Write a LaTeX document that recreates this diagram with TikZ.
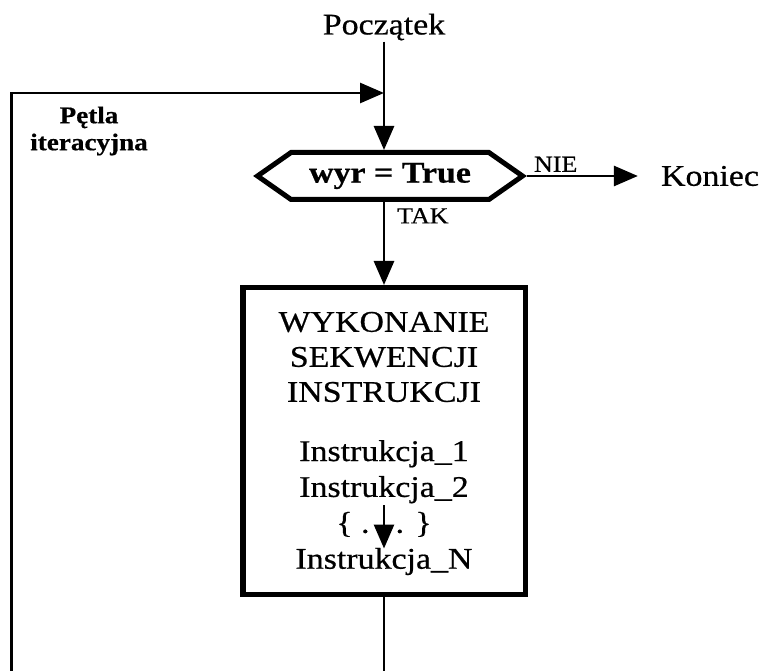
\documentclass[tikz,border=0pt]{standalone}
\usepackage{fontspec}
\setmainfont{Liberation Serif}[FakeStretch=1.13,FakeBold=0.6]
\usetikzlibrary{positioning,arrows.meta,shapes.symbols}

\begin{document}
\begin{tikzpicture}[x=1pt,y=1pt,
	txt/.style={font=\fontsize{30}{35}\selectfont,inner sep=1pt},
	instr/.style={txt,text height=21pt,text depth=7pt},
	lbl/.style={font=\fontsize{23}{27}\selectfont,inner sep=1pt},
	cond/.style={signal,signal to=east and west,signal pointer angle=70,draw,line width=5pt,
		minimum width=265pt,minimum height=47pt,inner sep=0pt,font=\fontsize{30}{35}\selectfont\bfseries},
	bodybox/.style={draw,line width=5.5pt,minimum width=282.5pt,minimum height=306.5pt,inner sep=0pt},
	line/.style={line width=2.8pt},
	arr/.style={line,-{Triangle[length=24pt,width=20pt]}}]
		\useasboundingbox (0,0) rectangle (764,-671);

		\node[txt]										(start)	at (384,-27)	{Początek};
		\node[cond]										(cond)	at (390,-176)	{wyr = True};
		\node[txt,right=133pt of cond]					(end)					{Koniec};
		\node[lbl,above right=3pt and 6pt of cond.east]	(nie)					{NIE};
		\node[lbl,below right=5pt and 6pt of cond.south]	(tak)					{TAK};
		\node[lbl,font=\fontsize{24}{27}\selectfont\bfseries,align=center]	(loop)	at (89,-131)	{Pętla\\iteracyjna};

		\node[bodybox]									(body)	at (384,-441)	{};
		\node[txt,align=center]							(head)	at (384,-357)	{WYKONANIE\\SEKWENCJI\\INSTRUKCJI};
		\node[instr]									(i1)	at (384,-454)	{Instrukcja\_1};
		\node[instr,node distance=5.5pt,below=of i1]	(i2)					{Instrukcja\_2};
		\node[instr,node distance=5.5pt,below=of i2]	(dots)					{\{ .\hspace{26pt}. \}};
		\node[instr,node distance=5.5pt,below=of dots]	(iN)					{Instrukcja\_N};

		\coordinate (join)	at (384,-93);
		\coordinate (botL)	at (11.5,-671);
		\coordinate (botM)	at (384,-671);

		\draw[arr] (start.south) -- (start.south |- cond.north);
		\draw[arr] (botL) |- (join);
		\draw[arr] (cond.east) -- ([xshift=-22pt]end.west);
		\draw[arr] (cond.south -| body.north) -- (body.north);
		\draw[arr,shorten >=-2pt] (i2.south) -- (iN.north);
		\draw[line] (body.south) -- (botM);
	\end{tikzpicture}
\end{document}
